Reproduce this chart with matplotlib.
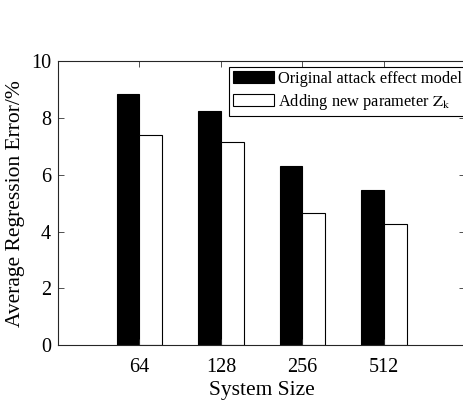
import numpy as np
from matplotlib import pyplot as plt

sizes = ["64", "128", "256", "512"]
original = [8.86, 8.23, 6.31, 5.46]
with_zk = [7.40, 7.16, 4.66, 4.28]

plt.rcParams['font.family'] = ['Liberation Serif', 'DejaVu Serif']
plt.rcParams['mathtext.fontset'] = 'stix'

fig = plt.figure(figsize=(4.64, 4.08), dpi=100)
ax = fig.add_axes([0.125, 0.154, 0.878, 0.696])

x = np.arange(1, len(sizes) + 1)
w = 0.28
ax.bar(x - w / 2, original, w, color="black", edgecolor="black", linewidth=0.8,
       label="Original attack effect model")
ax.bar(x + w / 2, with_zk, w, color="white", edgecolor="black", linewidth=0.8,
       label=r"Adding new parameter $\mathrm{Z_k}$")

ax.set_xlim(0, 5)
ax.set_ylim(0, 10)
ax.set_xticks(x)
ax.set_xticklabels(sizes)
ax.set_yticks([0, 2, 4, 6, 8, 10])
ax.tick_params(direction="in", top=True, right=True, labelsize=14.5, length=4,
               width=0.6, color="#333333")
ax.tick_params(axis="x", pad=9)
ax.tick_params(axis="y", pad=5)
for s in ax.spines.values():
    s.set_linewidth(0.8)
    s.set_color("#262626")

ax.set_xlabel("System Size", fontsize=15.5, labelpad=3)
ax.set_ylabel("Average Regression Error/%", fontsize=15.5, labelpad=4)

leg = ax.legend(loc="upper left", bbox_to_anchor=(229 / 464, 1 - 67 / 408),
                bbox_transform=fig.transFigure, fontsize=11.8, fancybox=False,
                framealpha=1, edgecolor="black", handlelength=2.5,
                handleheight=0.75, handletextpad=0.25, borderpad=0.25,
                labelspacing=0.3, borderaxespad=0)
leg.get_frame().set_linewidth(0.8)

fig.savefig("out.png", dpi=100)
